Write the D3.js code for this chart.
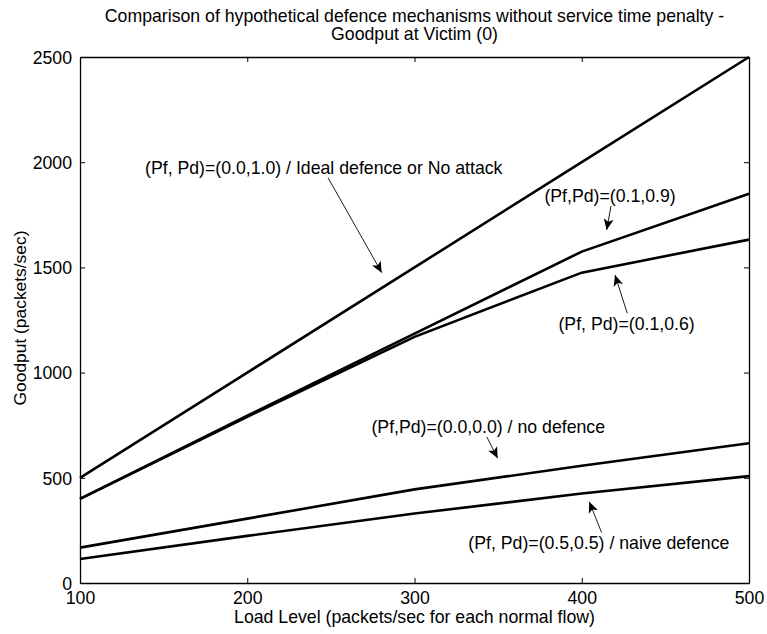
<!DOCTYPE html>
<html>
<head>
<meta charset="utf-8">
<script src="https://cdn.jsdelivr.net/npm/d3@7"></script>
<style>
  html, body { margin: 0; padding: 0; background: #fff; }
  svg { display: block; font-family: "Liberation Sans", Arial, Helvetica, sans-serif; }
</style>
</head>
<body>
<svg id="chart" width="767" height="634"></svg>
<script>
// Load levels (packets/sec for each normal flow)
const loadLevels = [100, 200, 300, 400, 500];

// Goodput at the victim for each defence setting
const idealDefence   = [500, 1000, 1500, 2000, 2500];   // (Pf,Pd)=(0.0,1.0)
const pf01pd09       = [400, 795, 1185, 1575, 1850];    // (Pf,Pd)=(0.1,0.9)
const pf01pd06       = [400, 790, 1170, 1475, 1632];    // (Pf,Pd)=(0.1,0.6)
const noDefence      = [168, 306, 445, 557, 664];       // (Pf,Pd)=(0.0,0.0)
const naiveDefence   = [114, 224, 330, 425, 508];       // (Pf,Pd)=(0.5,0.5)

const seriesList = [idealDefence, pf01pd09, pf01pd06, noDefence, naiveDefence];

const xTicks = [100, 200, 300, 400, 500];
const yTicks = [0, 500, 1000, 1500, 2000, 2500];

const titleLines = [
  "Comparison of hypothetical defence mechanisms without service time penalty -",
  "Goodput at Victim (0)"
];
const xLabel = "Load Level (packets/sec for each normal flow)";
const yLabel = "Goodput (packets/sec)";

// Annotations: text position and arrow tail/head, all in data units
const annotations = [
  { text: "(Pf, Pd)=(0.0,1.0) / Ideal defence or No attack", tx: 138.9, ty: 1972, anchor: "start",
    from: [248.3, 1926], to: [280.4, 1475] },
  { text: "(Pf,Pd)=(0.1,0.9)", tx: 416.9, ty: 1841, anchor: "middle",
    from: [417.5, 1792], to: [414.9, 1678] },
  { text: "(Pf, Pd)=(0.1,0.6)", tx: 426.8, ty: 1234, anchor: "middle",
    from: [427.2, 1282], to: [419.9, 1464] },
  { text: "(Pf,Pd)=(0.0,0.0) / no defence", tx: 413.9, ty: 743, anchor: "end",
    from: [343.2, 695], to: [349.7, 593] },
  { text: "(Pf, Pd)=(0.5,0.5) / naive defence", tx: 332.2, ty: 189, anchor: "start",
    from: [411.9, 239], to: [404.5, 386] }
];

const fontSize = 17.7;

const svg = d3.select("#chart");
const margin = { left: 80, right: 18, top: 57, bottom: 51 };
const W = 767, H = 634;
const x = d3.scaleLinear().domain([100, 500]).range([margin.left, W - margin.right]);
const y = d3.scaleLinear().domain([0, 2500]).range([H - margin.bottom, margin.top]);

svg.append("defs").append("marker")
  .attr("id", "arrowhead")
  .attr("viewBox", "0 0 10 10")
  .attr("refX", 10).attr("refY", 5)
  .attr("markerWidth", 11).attr("markerHeight", 11)
  .attr("markerUnits", "userSpaceOnUse")
  .attr("orient", "auto")
  .append("path")
  .attr("d", "M0,0.5 L10,5 L0,9.5 L2.5,5 Z")
  .attr("fill", "#000");

// Axes with inward ticks on all four sides
const tickLen = 5;
const gx = svg.append("g").attr("transform", `translate(0,${y(0)})`)
  .call(d3.axisBottom(x).tickValues(xTicks).tickSizeInner(-tickLen).tickSizeOuter(0).tickPadding(8).tickFormat(d3.format("d")));
const gxTop = svg.append("g").attr("transform", `translate(0,${y(2500)})`)
  .call(d3.axisTop(x).tickValues(xTicks).tickSizeInner(-tickLen).tickSizeOuter(0).tickFormat(""));
const gy = svg.append("g").attr("transform", `translate(${x(100)},0)`)
  .call(d3.axisLeft(y).tickValues(yTicks).tickSizeInner(-tickLen).tickSizeOuter(0).tickPadding(8).tickFormat(d3.format("d")));
const gyRight = svg.append("g").attr("transform", `translate(${x(500)},0)`)
  .call(d3.axisRight(y).tickValues(yTicks).tickSizeInner(-tickLen).tickSizeOuter(0).tickFormat(""));

[gx, gxTop, gy, gyRight].forEach(g => {
  g.select(".domain").attr("stroke", "#000").attr("stroke-width", 1.3);
  g.selectAll(".tick line").attr("stroke", "#000").attr("stroke-width", 1);
  g.selectAll(".tick text").attr("fill", "#000").attr("font-size", fontSize)
    .attr("font-family", "'Liberation Sans', Arial, sans-serif");
});
gy.selectAll(".tick text").attr("dy", "0.35em");

// Data lines
const line = d3.line().x((d, i) => x(loadLevels[i])).y(d => y(d));
svg.append("g").selectAll("path").data(seriesList).join("path")
  .attr("d", line)
  .attr("fill", "none")
  .attr("stroke", "#000")
  .attr("stroke-width", 2.6)
  .attr("stroke-linejoin", "miter");

// Annotation texts and arrows
const ann = svg.append("g");
annotations.forEach(a => {
  ann.append("text")
    .attr("x", x(a.tx)).attr("y", y(a.ty))
    .attr("text-anchor", a.anchor)
    .attr("dy", "0.35em")
    .attr("font-size", fontSize)
    .attr("fill", "#000")
    .text(a.text);
  ann.append("line")
    .attr("x1", x(a.from[0])).attr("y1", y(a.from[1]))
    .attr("x2", x(a.to[0])).attr("y2", y(a.to[1]))
    .attr("stroke", "#000").attr("stroke-width", 0.9)
    .attr("marker-end", "url(#arrowhead)");
});

// Title, centred over the plot area
const titleX = (x(100) + x(500)) / 2;
titleLines.forEach((t, i) => {
  svg.append("text")
    .attr("x", titleX).attr("y", 16 + i * 18)
    .attr("dy", "0.35em")
    .attr("text-anchor", "middle")
    .attr("font-size", fontSize)
    .attr("fill", "#000")
    .text(t);
});

// Axis labels
svg.append("text")
  .attr("x", (x(100) + x(500)) / 2).attr("y", 617)
  .attr("dy", "0.35em")
  .attr("text-anchor", "middle")
  .attr("font-size", fontSize)
  .text(xLabel);

svg.append("text")
  .attr("transform", `translate(20,318) rotate(-90)`)
  .attr("dy", "0.35em")
  .attr("text-anchor", "middle")
  .attr("font-size", 17.4)
  .text(yLabel);
</script>
</body>
</html>
